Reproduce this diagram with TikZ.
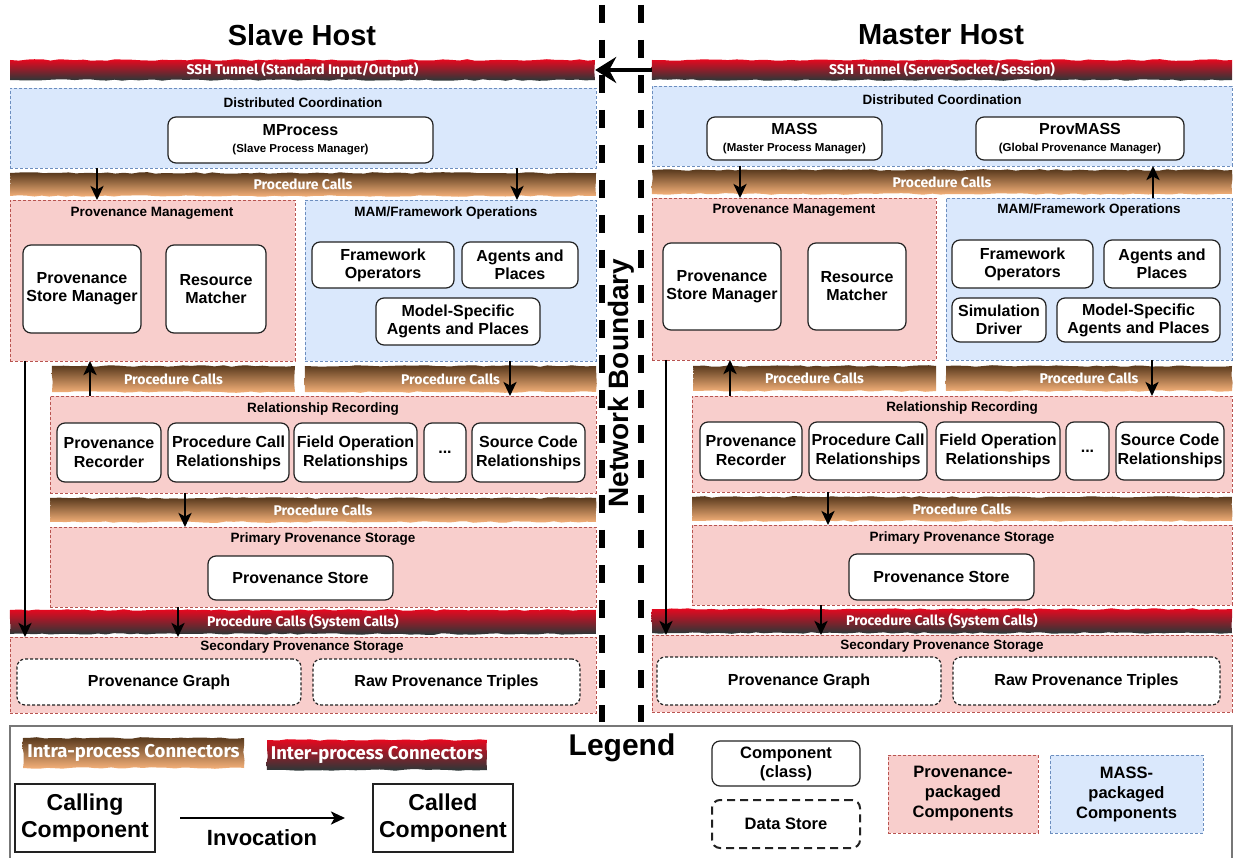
\documentclass[tikz,border=0pt]{standalone}
\usepackage{fontspec}
\setmainfont{Liberation Sans}
\newfontfamily\bandfont{Fira Sans}
\usetikzlibrary{arrows.meta,decorations.pathmorphing,calc}

\definecolor{pinkfill}{HTML}{F8CECC}
\definecolor{pinkline}{HTML}{B85450}
\definecolor{bluefill}{HTML}{DAE8FC}
\definecolor{blueline}{HTML}{6C8EBF}
\definecolor{compline}{HTML}{222222}
\definecolor{brownTop}{HTML}{57381C}
\definecolor{brownBot}{HTML}{F6B27A}
\definecolor{redTop}{HTML}{E8081F}
\definecolor{redBot}{HTML}{283838}
\definecolor{legline}{HTML}{777777}

\newcommand\fsz[2]{\fontsize{#1}{#2}\selectfont}

% box from corner (x1,y1) to corner (x2,y2)
\newcommand\bx[7]{\node[#2, outer sep=0pt, minimum width={(#5)-(#3)}, minimum height={(#6)-(#4)}] (#1) at ({((#3)+(#5))/2},{((#4)+(#6))/2}) {#7};}

% shaded connector band with ragged edges and its label
\newcommand\band[8][]{%
  \shade[#3, decorate, decoration={random steps, segment length=8pt, amplitude=0.8pt}] (#4,#5) rectangle (#6,#7);
  \node[bandtext, #1, minimum width={(#6)-(#4)}, minimum height={(#7)-(#5)}] (#2) at ({((#4)+(#6))/2},{((#5)+(#7))/2}) {#8};}

\begin{document}
\begin{tikzpicture}[x=1pt, y=-1pt,
  pinkbox/.style={fill=pinkfill, draw=pinkline, dash pattern=on 3pt off 2pt, line width=0.8pt},
  bluebox/.style={fill=bluefill, draw=blueline, dash pattern=on 3pt off 2pt, line width=0.8pt},
  comp/.style={fill=white, draw=compline, rounded corners=8pt, line width=1.2pt, align=center, inner sep=1pt, font=\bfseries\fsz{16}{18}},
  rel/.style={comp, font=\bfseries\fsz{16}{19}},
  store/.style={comp, dash pattern=on 3pt off 2pt},
  sectitle/.style={font=\bfseries\fsz{13.5}{16}, inner sep=0pt},
  bandtext/.style={text=white, font=\bandfont\bfseries\fsz{14}{16}, inner sep=0pt},
  brownband/.style={top color=brownTop, bottom color=brownBot},
  redband/.style={top color=redTop, bottom color=redBot},
  arr/.style={-{Stealth[length=14pt,width=13pt,inset=3.5pt]}, line width=2.6pt},
  netarr/.style={-{Stealth[length=21pt,width=26pt,inset=7pt]}, line width=3.6pt},
  netline/.style={line width=6pt, dash pattern=on 18pt off 17pt},
  host/.style={font=\bfseries\fsz{29}{34}},
  plainbox/.style={fill=white, draw=compline, line width=1.2pt, align=center, inner sep=1pt, font=\bfseries\fsz{23}{27}},
  legbox/.style={draw=legline, line width=1.5pt}
]
\pgfmathsetseed{11}
\fill[white] (0,0) rectangle (1235,858);
\useasboundingbox (0,0) rectangle (1235,858);

% ---------------- host titles and network boundary ----------------
\node[host] (slaveT) at (302,35) {Slave Host};
\node[host] (masterT) at (941,35) {Master Host};
\draw[netline] (602,5) -- (602,722);
\draw[netline] (641,5) -- (641,722);
\node[rotate=90, font=\bfseries\fsz{28}{32}] (nb) at (621,383) {Network Boundary};

% ---------------- slave host ----------------
\band{sshS}{redband}{10}{60}{595}{80}{SSH Tunnel (Standard Input/Output)}
\bx{dcS}{bluebox}{10}{88}{596}{168}{}
\node[sectitle] (dcSt) at (303,103) {Distributed Coordination};
\bx{mproc}{comp}{168}{117}{433}{163}{MProcess\\[-1pt]{\fsz{11.5}{13}(Slave Process Manager)}}

\band{pcS1}{brownband}{10}{173}{596}{196}{Procedure Calls}

\bx{pmS}{pinkbox}{10}{200}{295}{361}{}
\node[sectitle] (pmSt) at (152,213) {Provenance Management};
\bx{psmS}{comp}{23}{245}{141}{333}{Provenance\\Store Manager}
\bx{rmS}{comp}{166}{245}{266}{333}{Resource\\Matcher}

\bx{mamS}{bluebox}{305}{200}{596}{361}{}
\node[sectitle] (mamSt) at (446,213) {MAM/Framework Operations};
\bx{foS}{comp}{312}{242}{454}{288}{Framework\\Operators}
\bx{apS}{comp}{462}{242}{578}{288}{Agents and\\Places}
\bx{msS}{comp}{376}{298}{540}{345}{Model-Specific\\Agents and Places}

\band{pcS2}{brownband}{52}{366}{295}{392}{Procedure Calls}
\band{pcS3}{brownband}{305}{366}{596}{392}{Procedure Calls}

\bx{rrS}{pinkbox}{50}{396}{596}{493}{}
\node[sectitle] (rrSt) at (323,409) {Relationship Recording};
\bx{prS}{rel}{57}{423}{161}{482}{Provenance\\Recorder}
\bx{pcrS}{rel}{168}{423}{289}{482}{Procedure Call\\Relationships}
\bx{forS}{rel}{294}{423}{417}{482}{Field Operation\\Relationships}
\bx{dotS}{rel}{424}{423}{466}{482}{...}
\bx{scrS}{rel}{472}{423}{585}{482}{Source Code\\Relationships}

\band{pcS4}{brownband}{50}{498}{596}{522}{Procedure Calls}

\bx{ppsS}{pinkbox}{50}{527}{596}{607}{}
\node[sectitle] (ppsSt) at (323,539) {Primary Provenance Storage};
\bx{psS}{comp}{208}{556}{393}{600}{Provenance Store}

\band{scS}{redband}{10}{610}{596}{634}{Procedure Calls (System Calls)}

\bx{spsS}{pinkbox}{10}{637}{596}{713}{}
\node[sectitle] (spsSt) at (302,647) {Secondary Provenance Storage};
\bx{pgS}{store}{17}{659}{301}{705}{Provenance Graph}
\bx{rptS}{store}{313}{659}{580}{705}{Raw Provenance Triples}

% slave invocations
\draw[arr] ([xshift=87pt]dcS.south west) -- ([xshift=87pt]pmS.north west);
\draw[arr] ([xshift=-79pt]dcS.south east) -- ([xshift=-79pt]mamS.north east);
\draw[arr] ([xshift=40pt]rrS.north west) -- ([xshift=80pt]pmS.south west);
\draw[arr] ([xshift=-86pt]mamS.south east) -- ([xshift=-86pt]rrS.north east);
\draw[arr] ([xshift=135pt]rrS.south west) -- ([xshift=135pt]ppsS.north west);
\draw[arr] ([xshift=128pt]ppsS.south west) -- ([xshift=168pt]spsS.north west);
\draw[arr] ([xshift=15pt]pmS.south west) -- ([xshift=15pt]spsS.north west);

% ---------------- master host ----------------
\band{sshM}{redband}{652}{60}{1232}{80}{SSH Tunnel (ServerSocket/Session)}
\bx{dcM}{bluebox}{652}{86}{1232}{166}{}
\node[sectitle] (dcMt) at (942,100) {Distributed Coordination};
\bx{mass}{comp}{707}{117}{882}{160}{MASS\\[-1pt]{\fsz{11.5}{13}(Master Process Manager)}}
\bx{provmass}{comp}{976}{117}{1184}{160}{ProvMASS\\[-1pt]{\fsz{11.5}{13}(Global Provenance Manager)}}

\band{pcM1}{brownband}{652}{170}{1232}{194}{Procedure Calls}

\bx{pmM}{pinkbox}{652}{198}{936}{360}{}
\node[sectitle] (pmMt) at (794,210) {Provenance Management};
\bx{psmM}{comp}{663}{243}{781}{330}{Provenance\\Store Manager}
\bx{rmM}{comp}{808}{243}{906}{330}{Resource\\Matcher}

\bx{mamM}{bluebox}{946}{198}{1232}{360}{}
\node[sectitle] (mamMt) at (1089,210) {MAM/Framework Operations};
\bx{foM}{comp}{952}{240}{1093}{288}{Framework\\Operators}
\bx{apM}{comp}{1104}{240}{1220}{288}{Agents and\\Places}
\bx{sdM}{comp}{952}{298}{1046}{342}{Simulation\\Driver}
\bx{msM}{comp}{1057}{298}{1220}{342}{Model-Specific\\Agents and Places}

\band{pcM2}{brownband}{693}{366}{936}{391}{Procedure Calls}
\band{pcM3}{brownband}{946}{366}{1232}{391}{Procedure Calls}

\bx{rrM}{pinkbox}{692}{396}{1232}{492}{}
\node[sectitle] (rrMt) at (962,408) {Relationship Recording};
\bx{prM}{rel}{700}{422}{802}{480}{Provenance\\Recorder}
\bx{pcrM}{rel}{809}{422}{927}{480}{Procedure Call\\Relationships}
\bx{forM}{rel}{936}{422}{1060}{480}{Field Operation\\Relationships}
\bx{dotM}{rel}{1066}{422}{1109}{480}{...}
\bx{scrM}{rel}{1116}{422}{1224}{480}{Source Code\\Relationships}

\band{pcM4}{brownband}{692}{497}{1232}{521}{Procedure Calls}

\bx{ppsM}{pinkbox}{692}{525}{1232}{605}{}
\node[sectitle] (ppsMt) at (962,538) {Primary Provenance Storage};
\bx{psM}{comp}{849}{554}{1034}{600}{Provenance Store}

\band{scM}{redband}{652}{609}{1232}{633}{Procedure Calls (System Calls)}

\bx{spsM}{pinkbox}{652}{635}{1232}{712}{}
\node[sectitle] (spsMt) at (942,646) {Secondary Provenance Storage};
\bx{pgM}{store}{657}{657}{941}{705}{Provenance Graph}
\bx{rptM}{store}{953}{657}{1220}{705}{Raw Provenance Triples}

% master invocations
\draw[arr] ([xshift=88pt]dcM.south west) -- ([xshift=88pt]pmM.north west);
\draw[arr] ([xshift=-79pt]mamM.north east) -- ([xshift=-79pt]dcM.south east);
\draw[arr] ([xshift=38pt]rrM.north west) -- ([xshift=78pt]pmM.south west);
\draw[arr] ([xshift=-80pt]mamM.south east) -- ([xshift=-80pt]rrM.north east);
\draw[arr] ([xshift=136pt]rrM.south west) -- ([xshift=136pt]ppsM.north west);
\draw[arr] ([xshift=129pt]ppsM.south west) -- ([xshift=169pt]spsM.north west);
\draw[arr] ([xshift=14pt]pmM.south west) -- ([xshift=14pt]spsM.north west);

% tunnel between hosts
\draw[netarr] (sshM.west) -- (sshS.east);

% ---------------- legend ----------------
\bx{legend}{legbox}{10}{726}{1232}{862}{}
\node[font=\bfseries\fsz{30}{34}] (legT) at (622,748) {Legend};
\band[font=\bandfont\bfseries\fsz{18.5}{21}]{lgIntra}{brownband}{23}{738}{244}{768}{Intra-process Connectors}
\band[font=\bandfont\bfseries\fsz{18.5}{21}]{lgInter}{redband}{267}{740}{487}{770}{Inter-process Connectors}
\bx{calling}{plainbox}{15}{784}{155}{852}{Calling\\Component}
\bx{called}{plainbox}{373}{784}{513}{852}{Called\\Component}
\draw[arr] ([xshift=25pt]calling.east) -- ([xshift=-28pt]called.west);
\node[font=\bfseries\fsz{22}{26}] (inv) at (262,838) {Invocation};
\bx{lgComp}{comp, font=\bfseries\fsz{16.5}{19}}{712}{741}{860}{786}{Component\\(class)}
\bx{lgStore}{comp, font=\bfseries\fsz{16.5}{19}, line width=2pt, dash pattern=on 8pt off 5pt}{712}{800}{860}{848}{Data Store}
\bx{lgProv}{pinkbox, align=center, font=\bfseries\fsz{16.5}{20}}{888}{755}{1038}{833}{Provenance-\\packaged\\Components}
\bx{lgMass}{bluebox, align=center, font=\bfseries\fsz{16.5}{20}}{1050}{755}{1203}{833}{MASS-\\packaged\\Components}
\end{tikzpicture}
\end{document}
